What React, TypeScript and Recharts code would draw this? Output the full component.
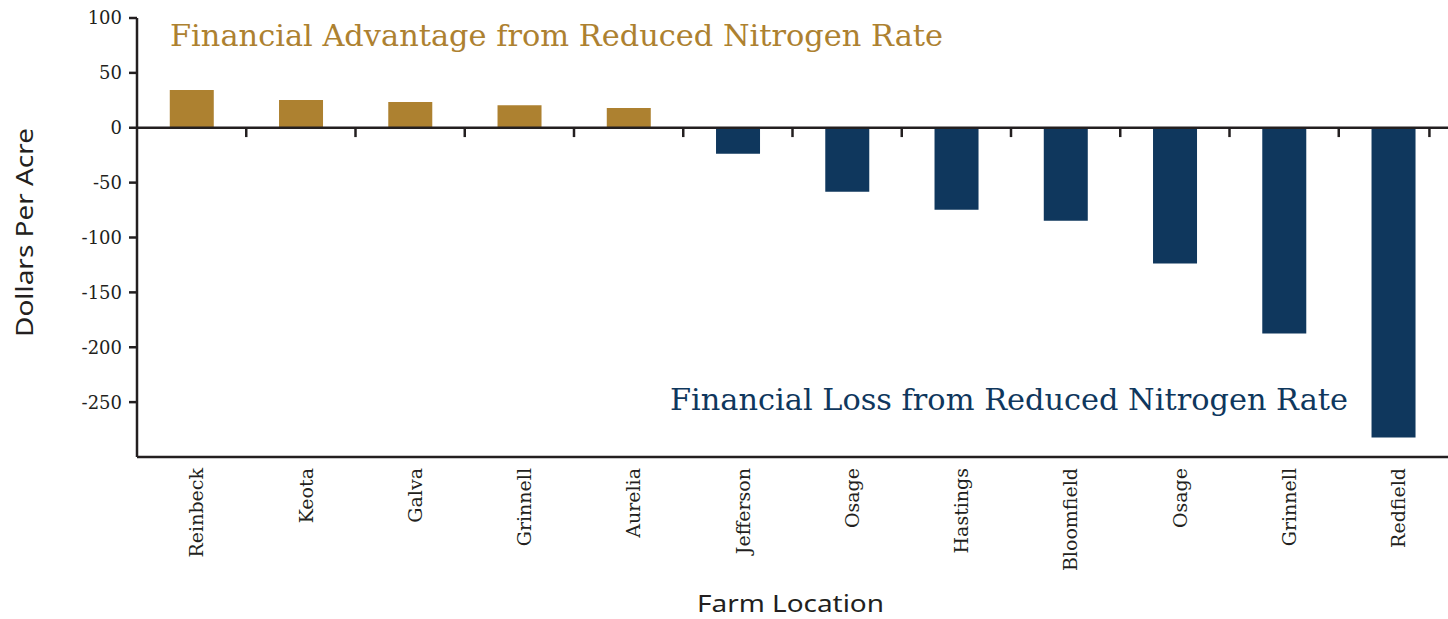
import React from 'react';
import { BarChart, Bar, XAxis, YAxis, Cell, ReferenceLine } from 'recharts';

const farms = ['Reinbeck', 'Keota', 'Galva', 'Grinnell', 'Aurelia', 'Jefferson', 'Osage', 'Hastings', 'Bloomfield', 'Osage', 'Grinnell', 'Redfield'];
const dollarsPerAcre = [34.3, 25.2, 23.4, 20.6, 17.9, -23.7, -58.3, -74.7, -84.7, -123.6, -187.4, -282.2];
const yTicks = [100, 50, 0, -50, -100, -150, -200, -250];
const boundaryTicks = [1, 2, 3, 4, 5, 6, 7, 8, 9, 10, 11, 11.83];

const GOLD = '#ad8130';
const NAVY = '#0f375d';
const INK = '#231f20';

const data = farms.map((farm, i) => ({ farm, value: dollarsPerAcre[i] }));

const XTick = (props: any) => {
  const { x, y, payload } = props;
  return (
    <text
      transform={`translate(${x},${y}) rotate(-90)`}
      textAnchor="end"
      dy="0.62em"
      fontFamily="'DejaVu Serif', serif"
      fontSize={19}
      fill={INK}
    >
      {payload.value}
    </text>
  );
};

export default function App() {
  return (
    <div style={{ position: 'absolute', left: 0, top: 0, width: 1448, height: 619, background: '#fff' }}>
      <BarChart width={1448} height={619} data={data} margin={{ top: 18, right: 0, bottom: 0, left: 0 }} barCategoryGap="30%">
        <XAxis
          dataKey="farm"
          allowDuplicatedCategory
          height={162}
          tickLine={false}
          tickSize={0}
          tickMargin={11}
          axisLine={{ stroke: INK, strokeWidth: 2.5 }}
          tick={<XTick />}
          interval={0}
        />
        <XAxis xAxisId="grid" dataKey="gridPos" type="number" domain={[0, 12]} allowDataOverflow hide />
        <YAxis
          width={137}
          domain={[-300, 100]}
          ticks={yTicks}
          interval={0}
          tickSize={8}
          tickMargin={7}
          axisLine={{ stroke: INK, strokeWidth: 2.5 }}
          tickLine={{ stroke: INK, strokeWidth: 2.5 }}
          tick={{ fill: INK, fontSize: 18, fontFamily: "'DejaVu Serif', serif" }}
          tickFormatter={(v: number) => (v < 0 ? `-${Math.abs(v)}` : `${v}`)}
        />
        <Bar dataKey="value" isAnimationActive={false}>
          {data.map((d, i) => (
            <Cell key={i} fill={d.value >= 0 ? GOLD : NAVY} />
          ))}
        </Bar>
        <ReferenceLine y={0} stroke={INK} strokeWidth={2.5} />
        {boundaryTicks.map((b) => (
          <ReferenceLine
            key={b}
            xAxisId="grid"
            ifOverflow="visible"
            segment={[{ x: b, y: 0 }, { x: b, y: -8.5 }]}
            stroke={INK}
            strokeWidth={2.5}
          />
        ))}
      </BarChart>
      <svg width={1448} height={619} style={{ position: 'absolute', left: 0, top: 0, pointerEvents: 'none' }}>
        <text x={170} y={46} fontFamily="'DejaVu Serif', serif" fontSize={29} fill={GOLD} textLength={773} lengthAdjust="spacingAndGlyphs">
          Financial Advantage from Reduced Nitrogen Rate
        </text>
        <text x={670} y={410} fontFamily="'DejaVu Serif', serif" fontSize={29} fill={NAVY} textLength={678} lengthAdjust="spacingAndGlyphs">
          Financial Loss from Reduced Nitrogen Rate
        </text>
        <text x={697} y={612} fontFamily="'Noto Sans', sans-serif" fontSize={23} fill={INK} textLength={187} lengthAdjust="spacingAndGlyphs">
          Farm Location
        </text>
        <text
          transform="translate(33,337) rotate(-90)"
          fontFamily="'Noto Sans', sans-serif"
          fontSize={23}
          fill={INK}
          textLength={209}
          lengthAdjust="spacingAndGlyphs"
        >
          Dollars Per Acre
        </text>
      </svg>
    </div>
  );
}
